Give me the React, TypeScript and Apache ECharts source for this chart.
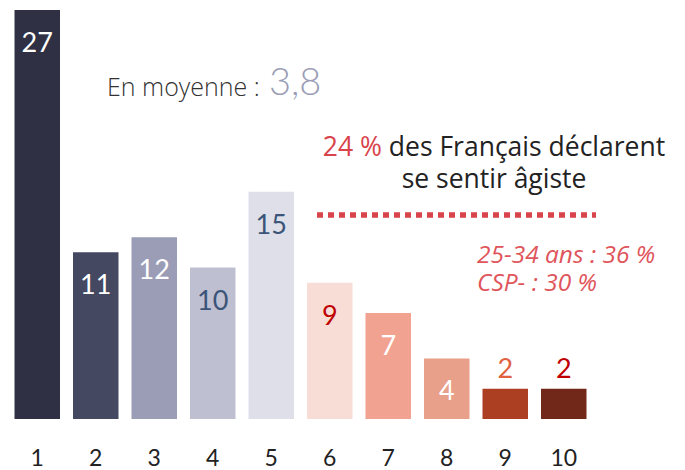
import React, { useEffect, useRef } from "react";
import * as echarts from "echarts";

const categories = ["1", "2", "3", "4", "5", "6", "7", "8", "9", "10"];
const values = [27, 11, 12, 10, 15, 9, 7, 4, 2, 2];
const barColors = ["#2f3043", "#444860", "#9a9db5", "#bebfd1", "#dedfe9", "#f7ddd6", "#f2a291", "#e8a08a", "#ac3f22", "#722818"];
const labelColors = ["#ffffff", "#ffffff", "#ffffff", "#3b5478", "#3b5478", "#c00000", "#ffffff", "#ffffff", "#e0603f", "#c00000"];
const labelOutside = [false, false, false, false, false, false, false, false, true, true];

const averageLabel = "En moyenne :";
const averageValue = "3,8";
const shareText = "24 %";
const line1 = " des Français déclarent";
const line2 = "se sentir âgiste";
const detailLines = ["25-34 ans : 36 %", "CSP- : 30 %"];

const NUMFONT = "Lato, 'Open Sans', sans-serif";
const FONT = "'Open Sans', Lato, sans-serif";
const RED = "#d9434b";

export default function App() {
  const ref = useRef<HTMLDivElement>(null);
  useEffect(() => {
    if (!ref.current) return;
    const chart = echarts.init(ref.current, null, { renderer: "svg" });
    chart.setOption({
      animation: false,
      backgroundColor: "#ffffff",
      grid: { left: 8, right: 92, top: 10, bottom: 51 },
      xAxis: {
        type: "category",
        data: categories,
        axisLine: { show: false },
        axisTick: { show: false },
        axisLabel: { color: "#222", fontSize: 23, fontFamily: NUMFONT, margin: 26 },
      },
      yAxis: { type: "value", min: 0, max: 27, show: false, splitLine: { show: false } },
      series: [
        {
          type: "bar",
          barWidth: 45.5,
          data: values.map((v, i) => ({
            value: v,
            itemStyle: { color: barColors[i] },
            label: {
              show: true,
              position: labelOutside[i] ? "top" : "insideTop",
              distance: labelOutside[i] ? 8 : 18,
              color: labelColors[i],
              fontSize: 27,
              fontFamily: NUMFONT,
            },
          })),
        },
      ],
      graphic: [
        {
          type: "text",
          x: 107,
          y: 86,
          style: { text: averageLabel, verticalAlign: "middle", fill: "#333", fontSize: 25, fontFamily: FONT, fontWeight: 300 },
        },
        {
          type: "text",
          x: 269,
          y: 80,
          style: { text: averageValue, verticalAlign: "middle", fill: "#9a9db5", fontSize: 38, fontFamily: NUMFONT, fontWeight: 300 },
        },
        {
          type: "text",
          x: 494,
          y: 146,
          style: {
            text: "{r|" + shareText + "}" + line1,
            align: "center",
            verticalAlign: "middle",
            fill: "#222",
            fontSize: 26.5,
            fontFamily: FONT,
            rich: { r: { fill: RED, fontSize: 26.5, fontFamily: FONT } },
          },
        },
        {
          type: "text",
          x: 494,
          y: 178,
          style: { text: line2, align: "center", verticalAlign: "middle", fill: "#222", fontSize: 26.5, fontFamily: FONT },
        },
        {
          type: "line",
          shape: { x1: 317, y1: 215, x2: 596, y2: 215 },
          style: { stroke: RED, lineWidth: 5.5, lineDash: [6, 5] },
        },
        {
          type: "text",
          x: 477,
          y: 253,
          style: {
            text: detailLines.join("\n"),
            verticalAlign: "top",
            lineHeight: 28,
            fill: "#e0555b",
            fontSize: 24.5,
            fontStyle: "italic",
            fontFamily: FONT,
          },
          top: 239,
          left: 477,
        },
      ],
    });
    return () => chart.dispose();
  }, []);
  return <div ref={ref} style={{ width: 685, height: 470, position: "absolute", left: 0, top: 0 }} />;
}
